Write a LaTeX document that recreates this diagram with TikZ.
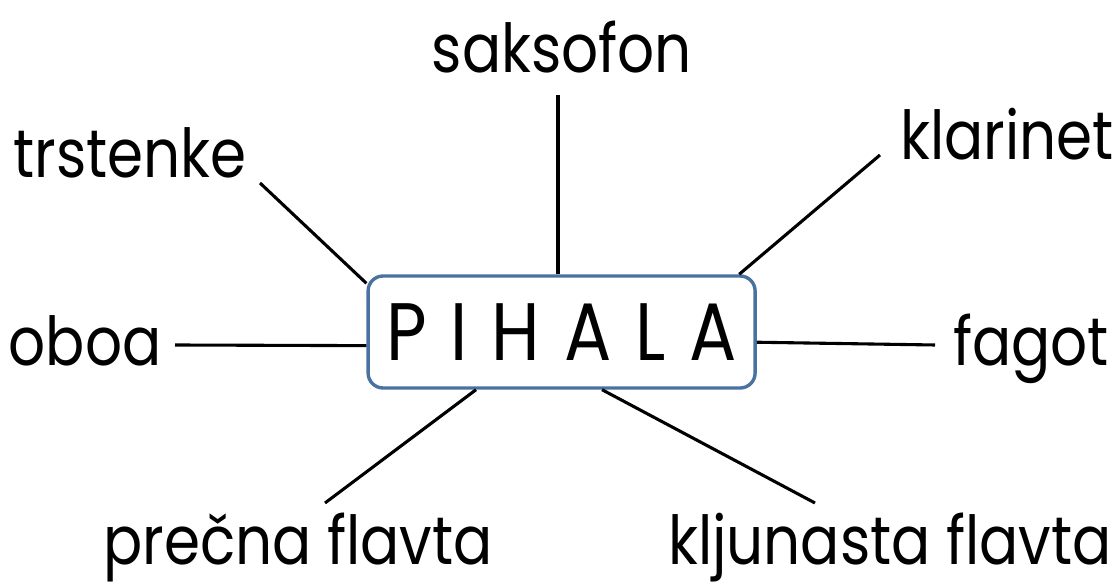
\documentclass[tikz,border=0pt]{standalone}
\usepackage{fontspec}
\setmainfont{Poppins}[FakeStretch=0.86]
\definecolor{boxblue}{HTML}{4A72A0}
\tikzset{
  lbl/.style={anchor=base,font=\fontsize{48}{52}\selectfont,inner sep=0pt},
  spoke/.style={line width=2.2pt,black}
}
\newcommand{\gapp}{\hspace{17pt}}
\begin{document}
\begin{tikzpicture}
   \useasboundingbox (0,0) rectangle (27.925,14.7);
   \node[draw=boxblue,line width=2.4pt,rounded corners=0.375cm,minimum width=9.675cm,minimum height=2.8cm,
     font=\fontsize{58}{62}\selectfont] (box) at (14.04,6.4) {P\gapp I\gapp H\gapp A\gapp L\gapp A};
   \node[lbl] (sax) at (14.05,12.875) {saksofon};
   \node[lbl] (trs) at (3.25,10.25) {trstenke};
   \node[lbl] (kla) at (25.175,10.7) {klarinet};
   \node[lbl] (obo) at (2.125,5.55) {oboa};
   \node[lbl] (fag) at (25.775,5.55) {fagot};
   \node[lbl] (pre) at (7.45,0.58) {prečna flavta};
   \node[lbl] (klj) at (22.25,0.58) {kljunasta flavta};
   \coordinate (saxend) at (13.95,12.325);
   \coordinate (trsend) at (6.5,10.125);
   \coordinate (klaend) at (22.0,10.825);
   \coordinate (oboend) at (4.375,6.075);
   \coordinate (fagend) at (23.375,6.075);
   \coordinate (preend) at (8.125,2.125);
   \coordinate (kljend) at (20.375,2.125);
   \draw[spoke] (saxend) -- (saxend |- box.north);
   \draw[spoke] (trsend) -- (box.166);
   \draw[spoke] (klaend) -- (box.18);
   \draw[spoke] (oboend) -- (box.184);
   \draw[spoke] (fagend) -- (box.357);
   \draw[spoke] (preend) -- (box.214);
   \draw[spoke] (kljend) -- (box.305);
\end{tikzpicture}
\end{document}
